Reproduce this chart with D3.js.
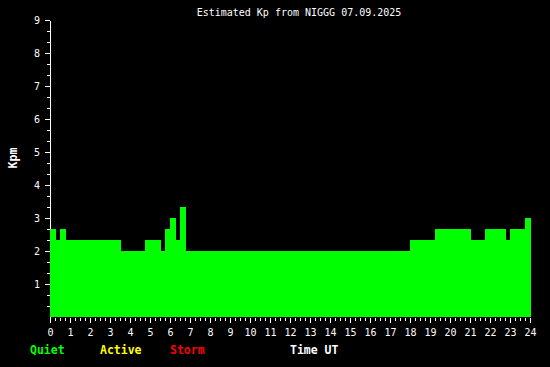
<!DOCTYPE html>
<html>
<head>
<meta charset="utf-8">
<script src="https://cdn.jsdelivr.net/npm/d3@7"></script>
<style>
    html, body { margin: 0; padding: 0; background: #000; }
    svg { display: block; }
    text { font-family: "DejaVu Sans Mono", monospace; }
</style>
</head>
<body>
<svg id="chart"></svg>
<script>
// step segments: start hour and Kpm value (each runs to the next start, last one to 24)
const starts = [0, 0.3, 0.5, 0.8, 3.55, 4.75, 5.55, 5.75, 6.0, 6.3, 6.5, 6.8,
    18.0, 19.25, 21.05, 21.75, 22.8, 23.0, 23.75];
const kpm = [2.67, 2.33, 2.67, 2.33, 2.0, 2.33, 2.0, 2.67, 3.0, 2.33, 3.33, 2.0,
    2.33, 2.67, 2.33, 2.67, 2.33, 2.67, 3.0];
const hourTicks = d3.range(0, 25);
const kpTicks = d3.range(1, 10);
const legend = [
    {label: 'Quiet', color: '#00ff00'},
    {label: 'Active', color: '#ffff00'},
    {label: 'Storm', color: '#ff0000'}
];

const width = 550;
const height = 367;

let svg = d3.select('#chart')
    .attr('width', width)
    .attr('height', height)
    .attr('shape-rendering', 'crispEdges');

svg.append('rect').attr('width', width).attr('height', height).attr('fill', '#000');

let x = d3.scaleLinear().domain([0, 24]).range([50, 530]);
let y = d3.scaleLinear().domain([0, 9]).range([317, 20]);

let segments = starts.map((s, i) => ({
    start: s,
    end: i < starts.length - 1 ? starts[i + 1] : 24,
    value: kpm[i]
}));

// title
svg.append('text')
    .attr('x', 299)
    .attr('y', 16)
    .attr('text-anchor', 'middle')
    .attr('fill', '#fff')
    .style('font-size', '10px')
    .text('Estimated Kp from NIGGG 07.09.2025');

// y axis: major ticks with labels, minor at thirds
let yMinor = svg.append('g')
    .attr('transform', 'translate(50,0)')
    .call(d3.axisLeft(y).tickValues(d3.range(1, 27).map(d => d / 3)).tickSize(3).tickFormat(''));
yMinor.select('.domain').remove();

let yAxis = svg.append('g')
    .attr('transform', 'translate(50,0)')
    .call(d3.axisLeft(y).tickValues(kpTicks).tickSize(5).tickPadding(5).tickSizeOuter(0));
yAxis.select('.domain').attr('stroke', '#fff');
yAxis.selectAll('line').attr('stroke', '#fff');
yMinor.selectAll('line').attr('stroke', '#fff');
yAxis.selectAll('text')
    .attr('fill', '#fff')
    .style('font-size', '10px')
    .style('font-family', '"DejaVu Sans Mono", monospace');

// bars
svg.append('g')
    .selectAll('rect')
    .data(segments)
    .enter()
    .append('rect')
    .attr('x', d => x(d.start))
    .attr('y', d => y(d.value))
    .attr('width', d => x(d.end) - x(d.start) + (d.end === 24 ? 1 : 0))
    .attr('height', d => y(0) - y(d.value))
    .attr('fill', '#00ff00');

// x axis: ticks every quarter hour, labels every hour
let xMinor = svg.append('g')
    .attr('transform', 'translate(0,318)')
    .call(d3.axisBottom(x).tickValues(d3.range(0, 97).map(d => d / 4)).tickSize(3).tickFormat(''));
xMinor.select('.domain').remove();
xMinor.selectAll('line').attr('stroke', '#fff');

let xAxis = svg.append('g')
    .attr('transform', 'translate(0,318)')
    .call(d3.axisBottom(x).tickValues(hourTicks).tickSize(5).tickPadding(6));
xAxis.select('.domain').remove();
xAxis.selectAll('line').attr('stroke', '#fff');
xAxis.selectAll('text')
    .attr('fill', '#fff')
    .style('font-size', '10px')
    .style('font-family', '"DejaVu Sans Mono", monospace');

// y label
svg.append('text')
    .attr('transform', 'translate(17,158) rotate(-90)')
    .attr('text-anchor', 'middle')
    .attr('fill', '#fff')
    .style('font-size', '11.5px')
    .style('font-weight', 'bold')
    .text('Kpm');

// legend
svg.selectAll('.legend')
    .data(legend)
    .enter()
    .append('text')
    .attr('class', 'legend')
    .attr('x', (d, i) => 30 + i * 70)
    .attr('y', 354)
    .attr('fill', d => d.color)
    .style('font-size', '11.5px')
    .style('font-weight', 'bold')
    .text(d => d.label);

svg.append('text')
    .attr('x', 290)
    .attr('y', 354)
    .attr('fill', '#fff')
    .style('font-size', '11.5px')
    .style('font-weight', 'bold')
    .text('Time UT');
</script>
</body>
</html>
